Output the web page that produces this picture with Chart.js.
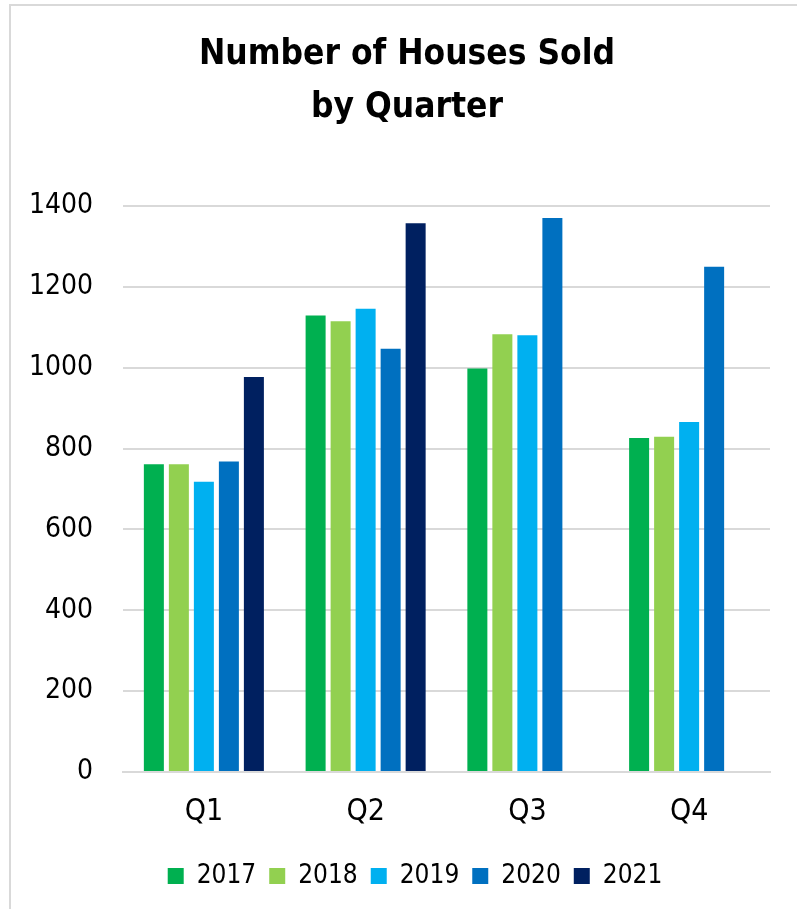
<!DOCTYPE html>
<html>
<head>
<meta charset="utf-8">
<script src="https://cdn.jsdelivr.net/npm/chart.js@4/dist/chart.umd.min.js"></script>
<style>
  html, body { margin: 0; padding: 0; background: #fff; overflow: hidden; }
  #frame { position: absolute; left: 9px; top: 4px; width: 900px; height: 1000px; border: 2px solid #d9d9d9; }
  #chart { position: absolute; left: 0; top: 0; }
</style>
</head>
<body>
<div id="frame"></div>
<canvas id="chart" width="797" height="909"></canvas>
<script>
// Houses sold per quarter, one series per year
const quarters = ['Q1', 'Q2', 'Q3', 'Q4'];
const years = ['2017', '2018', '2019', '2020', '2021'];
const sales2017 = [761, 1129, 998, 826];
const sales2018 = [761, 1115, 1083, 829];
const sales2019 = [718, 1146, 1080, 866];
const sales2020 = [768, 1047, 1370, 1250];
const sales2021 = [977, 1357, null, null];
const yTicks = [0, 200, 400, 600, 800, 1000, 1200, 1400];

const yearColors = ['#00B050', '#92D050', '#00B0F0', '#0070C0', '#002060'];
const FONT = '"Liberation Sans Narrow", "DejaVu Sans Condensed", "Liberation Sans", sans-serif';

const series = [sales2017, sales2018, sales2019, sales2020, sales2021];

const datasets = years.map((y, i) => ({
    label: y,
    data: series[i],
    backgroundColor: yearColors[i],
    borderWidth: 0,
    barPercentage: 0.8,
    categoryPercentage: 0.773
}));

// title and legend sit a little right of the canvas centre
const shiftBlocks = {
    id: 'shiftBlocks',
    afterLayout(chart) {
        chart.titleBlock.left += 44;
        chart.legend.left += 60;
    }
};

new Chart(document.getElementById('chart'), {
    type: 'bar',
    data: { labels: quarters, datasets: datasets },
    plugins: [shiftBlocks],
    options: {
        responsive: false,
        animation: false,
        layout: { padding: { left: 0, right: 27, top: 0, bottom: 10 } },
        plugins: {
            title: {
                display: true,
                text: ['Number of Houses Sold', 'by Quarter'],
                color: '#000',
                font: { family: FONT, size: 35, weight: 'bold', lineHeight: 1.514 },
                padding: { top: 28, bottom: 72 }
            },
            legend: {
                position: 'bottom',
                labels: {
                    color: '#000',
                    font: { family: FONT, size: 26 },
                    boxWidth: 16,
                    boxHeight: 16,
                    padding: 13
                }
            },
            tooltip: { enabled: false }
        },
        scales: {
            x: {
                grid: { display: false, drawTicks: false },
                border: { color: '#d9d9d9', width: 2 },
                ticks: { color: '#000', font: { family: FONT, size: 30 }, padding: 22 },
                afterFit: (s) => { s.height = 78; }
            },
            y: {
                min: 0,
                max: 1400,
                afterBuildTicks: (s) => { s.ticks = yTicks.map(v => ({ value: v })); },
                grid: { color: '#d9d9d9', lineWidth: 2, drawTicks: false },
                border: { display: false },
                ticks: {
                    color: '#000',
                    font: { family: FONT, size: 28 },
                    padding: 30,
                    callback: (v) => String(v)
                },
                afterFit: (s) => { s.width = 123; }
            }
        }
    }
});
</script>
</body>
</html>
